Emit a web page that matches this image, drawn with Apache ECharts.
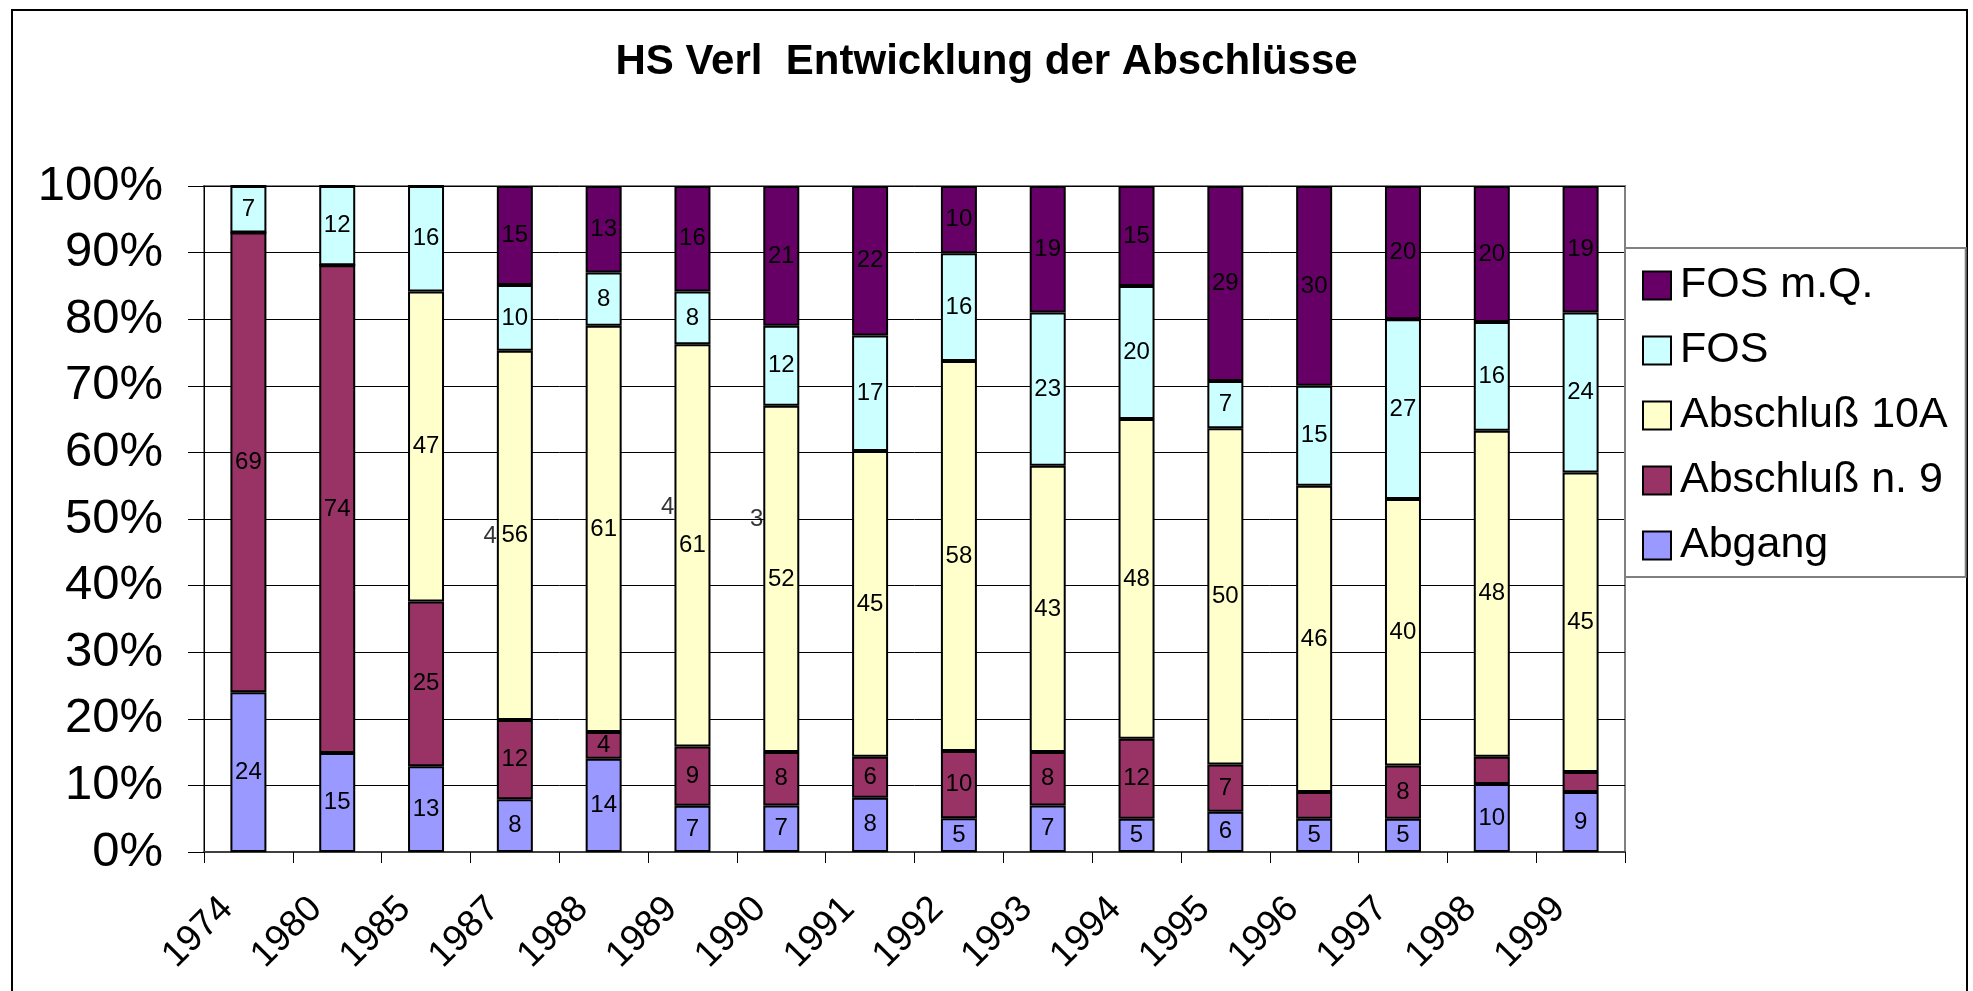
<!DOCTYPE html>
<html>
<head>
<meta charset="utf-8">
<title>HS Verl Entwicklung der Abschlüsse</title>
<script src="https://cdn.jsdelivr.net/npm/echarts@6/dist/echarts.min.js"></script>
<style>
  html, body { margin: 0; padding: 0; background: #fff; }
  #chart { width: 1973px; height: 991px; }
</style>
</head>
<body>
<div id="chart"></div>
<script>
  // counts per year, stacked as 100 %
  const years = ['1974', '1980', '1985', '1987', '1988', '1989', '1990', '1991',
    '1992', '1993', '1994', '1995', '1996', '1997', '1998', '1999']
  const abgang = [24, 15, 13, 8, 14, 7, 7, 8, 5, 7, 5, 6, 5, 5, 10, 9]
  const abschluss9 = [69, 74, 25, 12, 4, 9, 8, 6, 10, 8, 12, 7, 4, 8, 4, 3]
  const abschluss10A = [0, 0, 47, 56, 61, 61, 52, 45, 58, 43, 48, 50, 46, 40, 48, 45]
  const fos = [7, 12, 16, 10, 8, 8, 12, 17, 16, 23, 20, 7, 15, 27, 16, 24]
  const fosMQ = [0, 0, 0, 15, 13, 16, 21, 22, 10, 19, 15, 29, 30, 20, 20, 19]

  // the n. 9 labels of these years are not drawn in the bars ...
  const hiddenN9 = ['1996', '1998', '1999']
  // ... they show up as loose labels left of other bars instead
  const strayYears = ['1987', '1989', '1990']
  const strayText = ['4', '4', '3']
  const strayPct = [47.4, 51.7, 49.9]

  const yTicks = [0, 10, 20, 30, 40, 50, 60, 70, 80, 90, 100]

  const FONT = "'Liberation Sans', Arial, sans-serif"

  const totals = years.map((y, i) =>
    abgang[i] + abschluss9[i] + abschluss10A[i] + fos[i] + fosMQ[i])

  function toItems(counts, hidden) {
    return counts.map((c, i) => ({
      value: c / totals[i] * 100,
      count: c,
      label: { show: c > 0 && !(hidden || []).includes(years[i]) }
    }))
  }

  function barSeries(name, counts, color, hidden) {
    return {
      name: name,
      type: 'bar',
      stack: 'total',
      barWidth: 36,
      data: toItems(counts, hidden),
      itemStyle: { color: color, borderColor: '#000', borderWidth: 2 },
      label: {
        position: 'inside',
        color: '#000',
        fontFamily: FONT,
        fontSize: 24,
        formatter: p => p.data.count
      },
      emphasis: { disabled: true }
    }
  }

  const chart = echarts.init(document.getElementById('chart'))

  chart.setOption({
    animation: false,
    backgroundColor: '#fff',
    title: {
      text: 'HS Verl  Entwicklung der Abschlüsse',
      left: 'center',
      top: 36,
      textStyle: { fontFamily: FONT, fontSize: 42, fontWeight: 'bold', color: '#000' }
    },
    graphic: [{
      type: 'rect',
      shape: { x: 12, y: 10, width: 1955, height: 995 },
      style: { fill: 'none', stroke: '#000', lineWidth: 2 },
      silent: true
    }],
    legend: {
      orient: 'vertical',
      left: 1625,
      top: 248,
      padding: [16, 18, 10, 17],
      borderColor: '#808080',
      borderWidth: 2,
      itemWidth: 28,
      itemHeight: 28,
      itemGap: 22,
      icon: 'rect',
      data: ['FOS m.Q.', 'FOS', 'Abschluß 10A', 'Abschluß n. 9', 'Abgang'],
      textStyle: { fontFamily: FONT, fontSize: 43, lineHeight: 42, color: '#000', padding: [0, 0, 0, 4] },
      selectedMode: false
    },
    grid: {
      left: 204,
      right: 348,
      top: 186,
      bottom: 139,
      show: true,
      borderColor: '#808080',
      borderWidth: 2,
      backgroundColor: '#fff'
    },
    xAxis: {
      type: 'category',
      data: years,
      axisLine: { lineStyle: { color: '#404040', width: 2 } },
      axisTick: { show: true, length: 11, lineStyle: { color: '#000', width: 1 } },
      axisLabel: {
        rotate: 45,
        margin: 30,
        padding: [0, 30, 0, 0],
        fontFamily: FONT,
        fontSize: 37,
        color: '#000'
      }
    },
    yAxis: {
      type: 'value',
      min: yTicks[0],
      max: yTicks[yTicks.length - 1],
      interval: yTicks[1] - yTicks[0],
      axisLine: { show: true, lineStyle: { color: '#000', width: 1 } },
      axisTick: { show: true, length: 16, lineStyle: { color: '#000', width: 1 } },
      splitLine: { show: true, lineStyle: { color: '#000', width: 1 } },
      axisLabel: {
        margin: 41,
        fontFamily: FONT,
        fontSize: 49,
        color: '#000',
        formatter: '{value}%'
      }
    },
    series: [
      barSeries('Abgang', abgang, '#9999FF'),
      barSeries('Abschluß n. 9', abschluss9, '#993366', hiddenN9),
      barSeries('Abschluß 10A', abschluss10A, '#FFFFCC'),
      barSeries('FOS', fos, '#CCFFFF'),
      barSeries('FOS m.Q.', fosMQ, '#660066'),
      {
        name: 'stray',
        type: 'scatter',
        symbolSize: 0,
        data: strayYears.map((y, i) => ({ value: [y, strayPct[i]], text: strayText[i] })),
        label: {
          show: true,
          position: 'left',
          distance: 18,
          color: '#000',
          fontFamily: FONT,
          fontSize: 24,
          formatter: p => p.data.text
        },
        silent: true,
        z: 5
      }
    ]
  })
</script>
</body>
</html>
